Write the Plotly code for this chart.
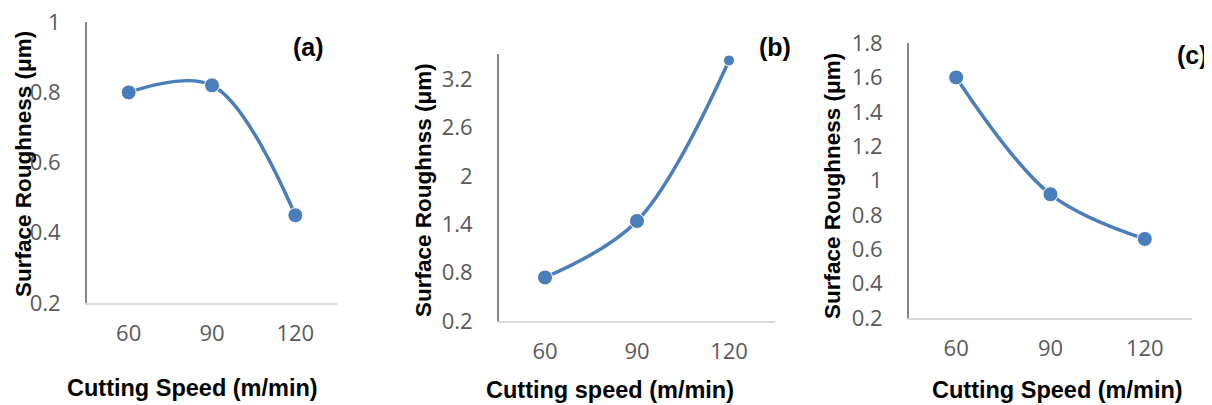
import plotly.graph_objects as go

W, H = 1212, 405
OFF = 8  # page body margin offset

speeds = ["60", "90", "120"]
ra_a = [0.80, 0.82, 0.45]
ra_b = [0.74, 1.44, 3.43]
ra_c = [1.60, 0.92, 0.66]

yticks_a = [0.2, 0.4, 0.6, 0.8, 1.0]
yticks_b = [0.2, 0.8, 1.4, 2.0, 2.6, 3.2]
yticks_c = [0.2, 0.4, 0.6, 0.8, 1.0, 1.2, 1.4, 1.6, 1.8]

BLUE = "#4a7ebb"
TICKC = "#595959"
TICKFONT = dict(family="Open Sans, Liberation Sans, sans-serif", size=22, color=TICKC)
BOLDFAM = "Liberation Sans, Arial, sans-serif"

def px_x(px):
    return (px - OFF) / W

def px_y(py):
    return 1 - (py - OFF) / H

panels = [
    dict(name="a", y=ra_a, ticks=yticks_a, rng=[0.2, 1.0005], xd=(87, 337), yd=(22, 303),
         sizes=[15, 15, 15],
         xt="Cutting Speed (m/min)", xtpos=(192, 388),
         yt="Surface Roughness (μm)", ytpos=(23, 164),
         lab="(a)", labpos=(308, 47)),
    dict(name="b", y=ra_b, ticks=yticks_b, rng=[0.2, 3.51], xd=(499, 775), yd=(54, 321),
         sizes=[15, 15, 11],
         xt="Cutting speed (m/min)", xtpos=(610, 390),
         yt="Surface Roughnss (μm)", ytpos=(423, 190),
         lab="(b)", labpos=(775, 47)),
    dict(name="c", y=ra_c, ticks=yticks_c, rng=[0.2, 1.8005], xd=(909, 1192), yd=(43, 318),
         sizes=[15, 15, 15],
         xt="Cutting Speed (m/min)", xtpos=(1057, 390),
         yt="Surface Roughness (μm)", ytpos=(832, 186),
         lab="(c)", labpos=(1192, 55)),
]

fig = go.Figure()
annotations = []
layout = dict(
    width=W, height=H, autosize=False, margin=dict(l=0, r=0, t=0, b=0, pad=0),
    paper_bgcolor="white", plot_bgcolor="white", showlegend=False,
)

for i, p in enumerate(panels, start=1):
    xa = "x" if i == 1 else f"x{i}"
    ya = "y" if i == 1 else f"y{i}"
    fig.add_trace(go.Scatter(
        x=speeds, y=p["y"], xaxis=xa, yaxis=ya, mode="lines+markers",
        line=dict(color=BLUE, width=3.5, shape="spline", smoothing=1.0),
        marker=dict(color=BLUE, size=p["sizes"], opacity=1),
        cliponaxis=False,
    ))
    xkey = "xaxis" if i == 1 else f"xaxis{i}"
    ykey = "yaxis" if i == 1 else f"yaxis{i}"
    layout[xkey] = dict(
        domain=[px_x(p["xd"][0]), px_x(p["xd"][1])], anchor=ya,
        type="category", range=[-0.5, 2.5],
        showline=True, linecolor="#d9d9d9", linewidth=2,
        showgrid=False, zeroline=False, ticks="", ticklabelstandoff=10,
        tickfont=TICKFONT, fixedrange=True, automargin=False,
    )
    layout[ykey] = dict(
        domain=[px_y(p["yd"][1]), px_y(p["yd"][0])], anchor=xa,
        range=p["rng"], tickvals=p["ticks"],
        ticktext=[f"{v:g}" for v in p["ticks"]],
        showline=True, linecolor="#868686", linewidth=2,
        showgrid=False, zeroline=False, ticks="", ticklabelstandoff=20,
        ticklabeloverflow="allow",
        tickfont=TICKFONT, fixedrange=True, automargin=False,
    )
    annotations.append(dict(
        text=p["xt"], x=px_x(p["xtpos"][0]), y=px_y(p["xtpos"][1]),
        xref="paper", yref="paper", showarrow=False, xanchor="center", yanchor="middle",
        font=dict(family=BOLDFAM, size=23.5, color="#000000", weight="bold"),
    ))
    annotations.append(dict(
        text=p["yt"], x=px_x(p["ytpos"][0]), y=px_y(p["ytpos"][1]), textangle=-90,
        xref="paper", yref="paper", showarrow=False, xanchor="center", yanchor="middle",
        font=dict(family=BOLDFAM, size=22.5, color="#000000", weight="bold"),
    ))
    annotations.append(dict(
        text=p["lab"], x=px_x(p["labpos"][0]), y=px_y(p["labpos"][1]),
        xref="paper", yref="paper", showarrow=False, xanchor="center", yanchor="middle",
        font=dict(family=BOLDFAM, size=25, color="#000000", weight="bold"),
    ))

layout["annotations"] = annotations
fig.update_layout(**layout)
fig.write_html("out.html")
